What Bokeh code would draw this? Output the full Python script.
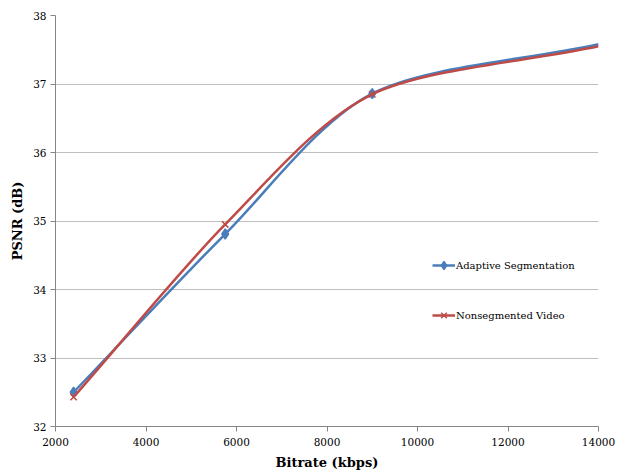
from bokeh.plotting import figure
from bokeh.models import Legend, LegendItem, FixedTicker, Range1d
from bokeh.embed import file_html
from bokeh.resources import INLINE
import numpy as np

# ---- data ----
bitrate = [2400, 5750, 9000, 14000]
adaptive_psnr = [32.50, 34.81, 36.86, 37.58]
nonseg_psnr = [32.43, 34.95, 36.85, 37.55]
marker_count = 3  # points whose markers are visible
x_ticks = [2000, 4000, 6000, 8000, 10000, 12000, 14000]
y_ticks = [32, 33, 34, 35, 36, 37, 38]

FONT = "DejaVu Serif"
BLUE = "#4A7EBB"
RED = "#BE4B48"


def smooth_segments(xs, ys, tension=1 / 6):
    """Smoothed line drawn as cubic Bezier segments (Catmull-Rom style)."""
    pts = np.column_stack([xs, ys]).astype(float)
    n = len(pts)
    out = {k: [] for k in ("x0", "y0", "x1", "y1", "cx0", "cy0", "cx1", "cy1")}
    for i in range(n - 1):
        p1, p2 = pts[i], pts[i + 1]
        if i == 0:
            c1 = p1 + (p2 - p1) / 3
        else:
            c1 = p1 + (p2 - pts[i - 1]) * tension
        if i == n - 2:
            c2 = p2 - (p2 - p1) / 3
        else:
            c2 = p2 - (pts[i + 2] - p1) * tension
        out["x0"].append(p1[0]); out["y0"].append(p1[1])
        out["x1"].append(p2[0]); out["y1"].append(p2[1])
        out["cx0"].append(c1[0]); out["cy0"].append(c1[1])
        out["cx1"].append(c2[0]); out["cy1"].append(c2[1])
    return out


p = figure(width=625, height=475, output_backend="svg", toolbar_location=None,
           x_range=Range1d(2000, 14000), y_range=Range1d(32, 38),
           min_border_left=55, min_border_right=27, min_border_top=15,
           min_border_bottom=49)
p.outline_line_color = None

p.xgrid.visible = False
p.ygrid.ticker = FixedTicker(ticks=y_ticks)
p.ygrid.grid_line_color = "#BFBFBF"

p.xaxis.ticker = FixedTicker(ticks=x_ticks)
p.yaxis.ticker = FixedTicker(ticks=y_ticks)
for ax in (p.xaxis[0], p.yaxis[0]):
    ax.axis_line_color = "#868686"
    ax.major_tick_line_color = "#868686"
    ax.major_tick_in = 0
    ax.major_tick_out = 5
    ax.minor_tick_line_color = None
    ax.major_label_text_font = FONT
    ax.major_label_text_font_size = "10.5px"
    ax.major_label_text_color = "#000000"
    ax.axis_label_text_font = FONT
    ax.axis_label_text_font_size = "13px"
    ax.axis_label_text_font_style = "bold"
    ax.axis_label_text_color = "#000000"

p.xaxis.axis_label = "Bitrate (kbps)"
p.yaxis.axis_label = "PSNR (dB)"
p.xaxis.major_label_standoff = 6
p.xaxis.axis_label_standoff = 6
p.yaxis.major_label_standoff = 4
p.yaxis.axis_label_standoff = 5

items = []
for ys, color, marker, label in ((adaptive_psnr, BLUE, "diamond", "Adaptive Segmentation"),
                                 (nonseg_psnr, RED, "x", "Nonsegmented Video")):
    seg = smooth_segments(bitrate, ys, tension=1 / 7)
    bz = p.bezier(x0=seg["x0"], y0=seg["y0"], x1=seg["x1"], y1=seg["y1"],
                  cx0=seg["cx0"], cy0=seg["cy0"], cx1=seg["cx1"], cy1=seg["cy1"],
                  line_color=color, line_width=2.5)
    sc = p.scatter(bitrate[:marker_count], ys[:marker_count], marker=marker,
                   size=10 if marker == "diamond" else 9,
                   fill_color=color, line_color=color, line_width=1.5)
    items.append(LegendItem(label=label, renderers=[bz, sc]))

legend = Legend(items=items, location=(377, 101))
legend.label_text_font = FONT
legend.label_text_font_size = "10px"
legend.label_text_color = "#000000"
legend.border_line_alpha = 0
legend.background_fill_alpha = 0
legend.padding = 0
legend.margin = 0
legend.spacing = 30
legend.glyph_width = 23
legend.glyph_height = 20
legend.label_standoff = 1
p.add_layout(legend)

open("out.html", "w").write(file_html(p, INLINE))
